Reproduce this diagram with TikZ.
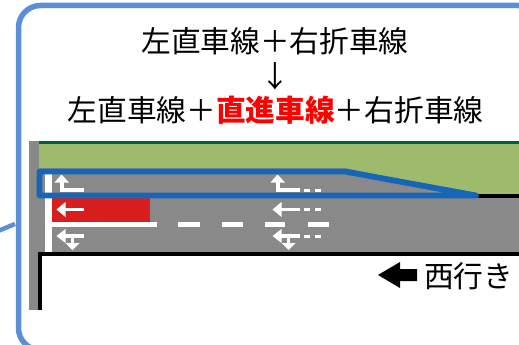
\documentclass[tikz,border=0pt]{standalone}
\usepackage{fontspec}
\setmainfont{Noto Sans CJK JP}
\definecolor{calloutblue}{RGB}{91,143,214}
\definecolor{laneblue}{RGB}{21,101,184}
\definecolor{roadgrey}{RGB}{137,137,137}
\definecolor{verge}{RGB}{157,187,106}
\definecolor{vergeedge}{RGB}{0,97,60}
\definecolor{lanered}{RGB}{217,30,30}
\tikzset{
    caption/.style={inner sep=0pt, font=\fontsize{29.7}{32}\selectfont, text=black},
    lanemark/.style={draw=white, line width=3.6pt},
    lanetip/.style={fill=white},
    shortdash/.style={draw=white, line width=3pt},
    kerb/.style={draw=black, line width=4pt},
}
\begin{document}
\begin{tikzpicture}[x=1pt, y=-1pt]
    \useasboundingbox (0,0) rectangle (519,345);
    \begin{scope}
    \clip (0,0) rectangle (519,345);
    \draw [calloutblue, line width=5.5pt, rounded corners=22pt] (18.5,5.5) rectangle (540,350);
    \draw [calloutblue, line width=4.5pt] (-2,231) -- (15,224);
    \end{scope}

    \node [caption] (before) at (275,41) {左直車線＋右折車線};
    \node [caption] (down) at (275,76) {↓};
    \node [caption] (after) at (275.5,110) {左直車線＋{\bfseries\color{red}直進車線}＋右折車線};

    % road
    \fill [roadgrey] (29,141) rectangle (519,310);
    \fill [white] (39,253) rectangle (519,310);
    \fill [verge] (39,141) -- (519,141) -- (519,195) -- (478,195) -- (345,168) -- (39,168) -- cycle;
    \fill [vergeedge] (39,141) rectangle (519,143.5);
    \fill [lanered] (52,198) rectangle (150,222);

    % lane lines
    \draw [white, line width=6.5pt] (48.5,174) -- (48.5,252);
    \draw [lanemark, line width=4.4pt] (52,224.5) -- (157,224.5);
    \draw [lanemark, line width=4.4pt] (178,224.5) -- (200,224.5);
    \draw [lanemark, line width=4.4pt] (222,224.5) -- (243,224.5);
    \draw [lanemark, line width=4.4pt] (265,224.5) -- (285,224.5);
    \draw [lanemark, line width=4.4pt] (308,224.5) -- (329,224.5);

    % lane arrows, twice
    \foreach \xoff in {0,216}{
    \begin{scope}[xshift=\xoff pt]
    \draw [lanemark] (62,180) -- (62,190) -- (84,190);
    \fill [lanetip] (54.5,182.5) -- (61.5,174.5) -- (69,182.5) -- cycle;
    \draw [lanemark] (63,209.5) -- (84,209.5);
    \fill [lanetip] (65.5,202) -- (56.5,209.5) -- (65.5,217) -- cycle;
    \draw [lanemark] (63,236) -- (84,236);
    \draw [lanemark] (72.5,236) -- (72.5,244);
    \fill [lanetip] (65.5,229) -- (56.5,236) -- (65.5,243) -- cycle;
    \fill [lanetip] (65.5,243) -- (72.5,250) -- (79.5,243) -- cycle;
    \end{scope}
    }
    \foreach \ylane in {190,209.5,236}{
    \draw [shortdash] (304,\ylane) -- (310,\ylane);
    \draw [shortdash] (315,\ylane) -- (321,\ylane);
    }

    % edges and new lane outline
    \draw [kerb] (39.5,310) -- (39.5,253.5) -- (519,253.5);
    \draw [kerb] (478,195.5) -- (519,195.5);
    \draw [laneblue, line width=5.8pt, line join=round] (39.5,171.5) -- (345,171.5) -- (476,195.5) -- (39.5,195.5) -- cycle;

    % direction
    \fill [black] (378,275) -- (400,262) -- (400,269) -- (417,269) -- (417,281) -- (400,281) -- (400,288) -- cycle;
    \node [caption, anchor=west] (west) at (424,276) {西行き};
\end{tikzpicture}
\end{document}
